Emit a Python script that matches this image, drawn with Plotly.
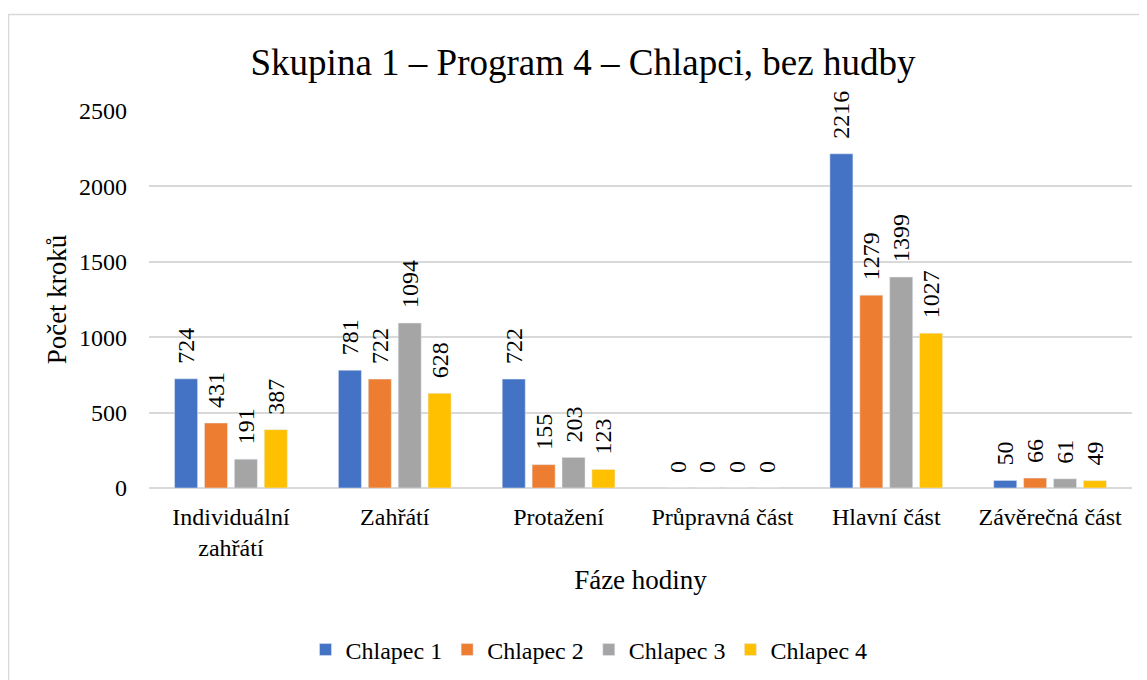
import plotly.graph_objects as go

categories = ["Individuální<br>zahřátí", "Zahřátí", "Protažení", "Průpravná část", "Hlavní část", "Závěrečná část"]
series_names = ["Chlapec 1", "Chlapec 2", "Chlapec 3", "Chlapec 4"]
chlapec1 = [724, 781, 722, 0, 2216, 50]
chlapec2 = [431, 722, 155, 0, 1279, 66]
chlapec3 = [191, 1094, 203, 0, 1399, 61]
chlapec4 = [387, 628, 123, 0, 1027, 49]
colors = ["#4472C4", "#ED7D31", "#A5A5A5", "#FFC000"]

FONT = "Liberation Serif"
OFF = 8  # default body margin of the html page
FW, FH = 1147 - OFF, 680 - OFF

fig = go.Figure()
for name, vals, col in zip(series_names, [chlapec1, chlapec2, chlapec3, chlapec4], colors):
    fig.add_trace(go.Bar(
        x=categories, y=vals, name=name, marker_color=col,
        text=["\u00a0\u00a0" + str(v) for v in vals], textposition="outside", textangle=-90,
        constraintext="none",
        textfont=dict(family=FONT, size=24, color="#000000"),
        cliponaxis=False,
    ))

# plot area in reference pixel coords
PL, PR, PT, PB = 149, 1132, 111, 488
ml, mr, mt = PL - OFF, FW - (PR - OFF), PT - OFF
mb = FH - (PB - OFF)
pw, ph = PR - PL, PB - PT

def px_x(px):
    return (px - PL) / pw

def px_y(py):
    return (PB - py) / ph

fig.update_layout(
    width=FW, height=FH,
    margin=dict(l=ml, r=mr, t=mt, b=mb, autoexpand=False),
    paper_bgcolor="white", plot_bgcolor="white",
    barmode="group", bargap=0.27, bargroupgap=0.23,
    title=dict(text="Skupina 1 – Program 4 – Chlapci, bez hudby", x=(583 - OFF) / FW, xanchor="center",
               y=1 - (62 - OFF) / FH, yanchor="middle", font=dict(family=FONT, size=37, color="#000000")),
    font=dict(family=FONT, color="#000000"),
    xaxis=dict(title=dict(text="Fáze hodiny", font=dict(family=FONT, size=27), standoff=9),
               tickfont=dict(family=FONT, size=24), showgrid=False, showline=False, ticks="",
               ticklabelstandoff=12),
    yaxis=dict(title=dict(text="Počet kroků", font=dict(family=FONT, size=27), standoff=4),
               range=[0, 2500], dtick=500, tickfont=dict(family=FONT, size=24),
               showgrid=True, gridcolor="#D9D9D9", gridwidth=1.5, zeroline=True,
               zerolinecolor="#D9D9D9", zerolinewidth=1.5, ticks="", ticklabelstandoff=21),
    legend=dict(orientation="h", x=px_x(589), xanchor="center", y=px_y(650), yanchor="middle",
                font=dict(family=FONT, size=24), itemwidth=30, traceorder="normal"),
    shapes=[dict(type="rect", xref="paper", yref="paper",
                 x0=px_x(8.5), x1=px_x(1170), y0=px_y(14.5), y1=px_y(700),
                 line=dict(color="#D9D9D9", width=1.5), fillcolor="rgba(0,0,0,0)", layer="below")],
)

fig.write_html("out.html")
